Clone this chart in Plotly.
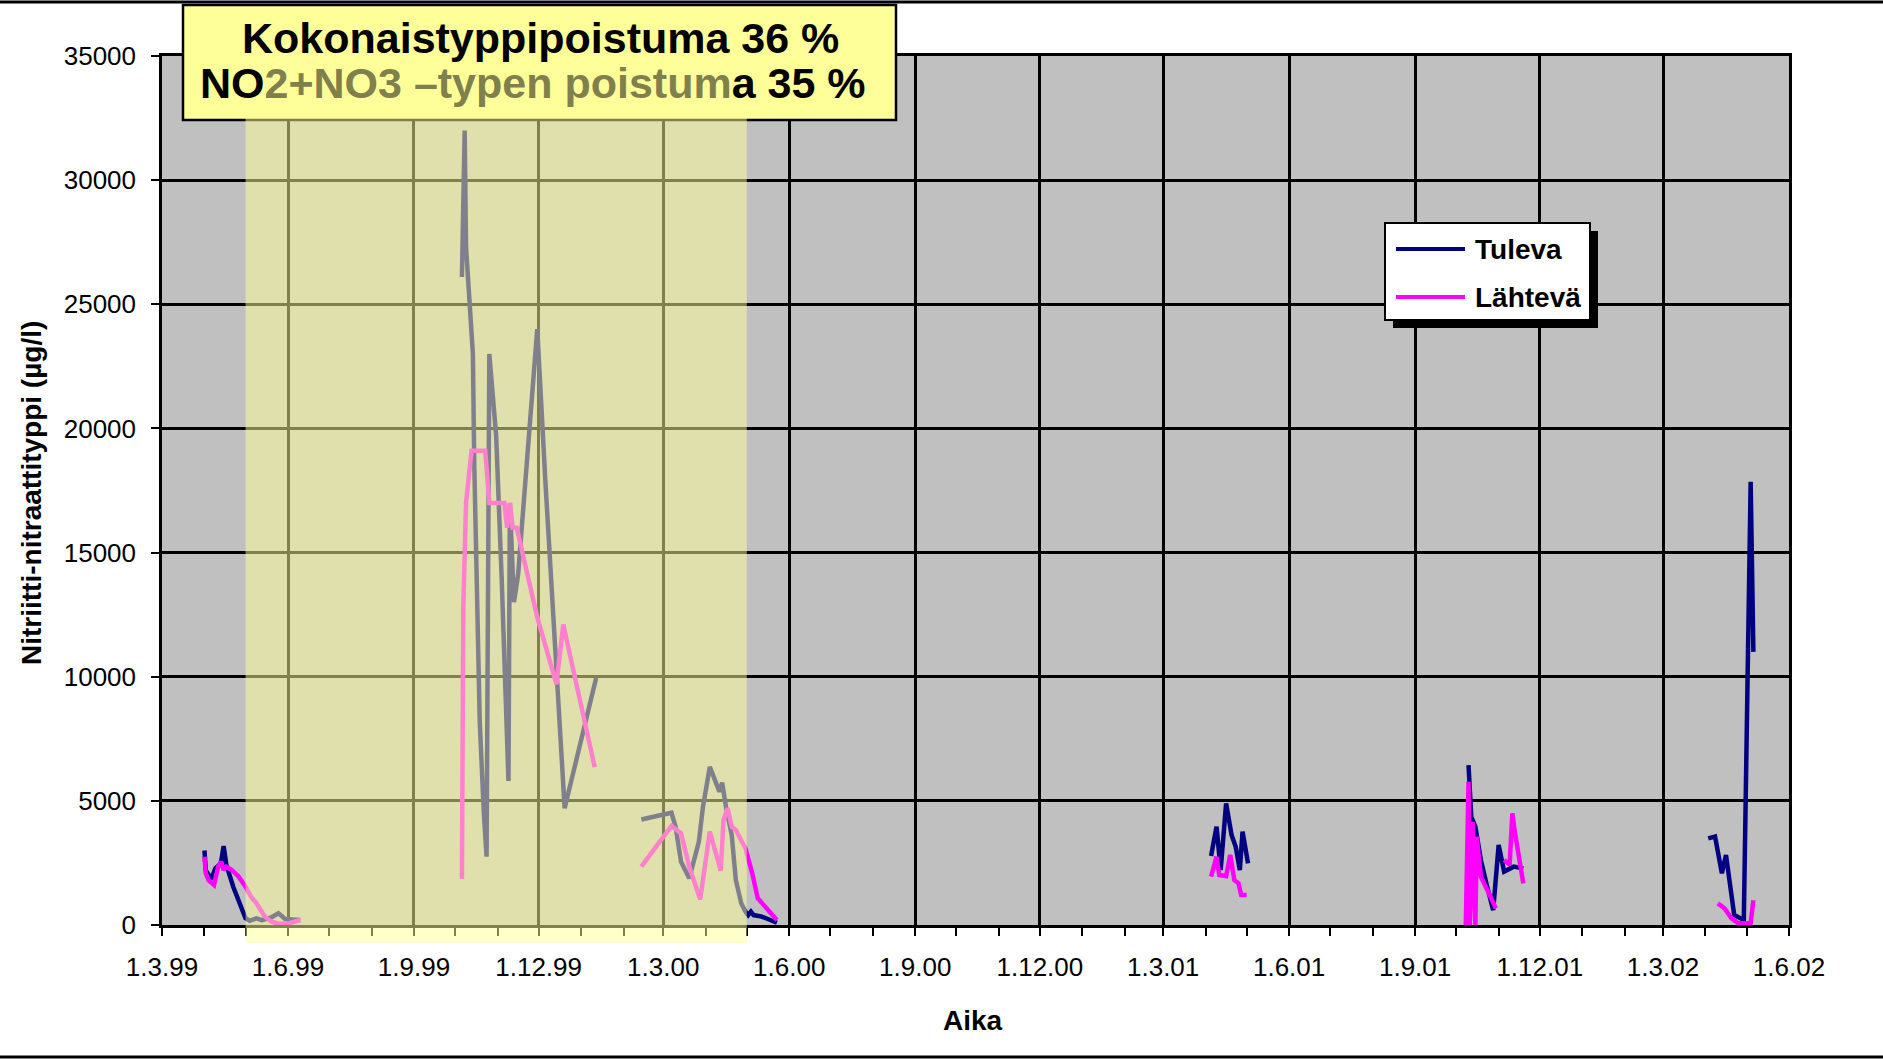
import plotly.graph_objects as go

# ---------------- data ----------------
tuleva_dates = [
    "1999-04-01", "1999-04-02", "1999-04-06", "1999-04-09", "1999-04-13", "1999-04-15",
    "1999-04-17", "1999-04-22", "1999-05-01", "1999-05-04", "1999-05-09", "1999-05-13",
    "1999-05-20", "1999-05-25", "1999-05-30", "1999-06-10", None,
    "1999-10-06", "1999-10-08", "1999-10-09", "1999-10-14", "1999-10-15", "1999-10-17",
    "1999-10-19", "1999-10-22", "1999-10-24", "1999-10-26", "1999-10-31", "1999-11-04",
    "1999-11-09", "1999-11-10", "1999-11-13", "1999-11-16", "1999-11-30", "1999-12-06",
    "1999-12-14", "1999-12-20", "2000-01-12", None,
    "2000-02-14", "2000-03-07", "2000-03-10", "2000-03-14", "2000-03-20", "2000-03-27",
    "2000-03-30", "2000-04-04", "2000-04-11", "2000-04-13", "2000-04-16", "2000-04-20",
    "2000-04-23", "2000-04-27", "2000-04-30", "2000-05-02", "2000-05-04", "2000-05-06",
    "2000-05-12", "2000-05-23", None,
    "2001-04-05", "2001-04-09", "2001-04-12", "2001-04-16", "2001-04-20", "2001-04-23",
    "2001-04-26", "2001-04-28", "2001-05-02", None,
    "2001-10-10", "2001-10-12", "2001-10-15", "2001-10-19", "2001-10-23", "2001-10-28",
    "2001-11-01", "2001-11-05", "2001-11-12", "2001-11-19", None,
    "2002-04-03", "2002-04-08", "2002-04-13", "2002-04-16", "2002-04-22", "2002-04-29",
    "2002-05-04", "2002-05-06",
]
tuleva_values = [
    3000, 2200, 1850, 2280, 2480, 3180, 2420, 1540, 270, 170, 270, 200, 310, 470, 240, 200, None,
    26100, 32000, 27300, 23000, 18600, 14000, 8200, 4500, 2750, 23000, 19700, 14000,
    5800, 17000, 13000, 14100, 24000, 17800, 10100, 4700, 9950, None,
    4250, 4520, 3960, 2550, 1880, 3350, 4760, 6370, 5370, 5730, 4700, 3620,
    1810, 870, 540, 400, 540, 400, 340, 90, None,
    2780, 3960, 2215, 4900, 3620, 3150, 2215, 3760, 2480, None,
    6440, 4360, 3960, 2620, 1680, 600, 3220, 2150, 2350, 2280, None,
    3490, 3560, 2080, 2820, 400, 200, 17850, 11000,
]

lahteva_dates = [
    "1999-04-01", "1999-04-02", "1999-04-04", "1999-04-08", "1999-04-11", "1999-04-13",
    "1999-04-15", "1999-04-17", "1999-04-21", "1999-04-26", "1999-05-01", "1999-05-05",
    "1999-05-09", "1999-05-12", "1999-05-15", "1999-05-20", "1999-05-26", "1999-06-02",
    "1999-06-10", None,
    "1999-10-06", "1999-10-07", "1999-10-09", "1999-10-13", "1999-10-23", "1999-10-26",
    "1999-11-06", "1999-11-08", "1999-11-10", "1999-11-12", "1999-11-15", "1999-11-30",
    "1999-12-14", "1999-12-19", "2000-01-11", None,
    "2000-02-14", "2000-03-07", "2000-03-14", "2000-03-20", "2000-03-28", "2000-04-04",
    "2000-04-12", "2000-04-14", "2000-04-17", "2000-04-20", "2000-04-23", "2000-04-30",
    "2000-05-05", "2000-05-09", "2000-05-23", None,
    "2001-04-05", "2001-04-09", "2001-04-11", "2001-04-16", "2001-04-19", "2001-04-22",
    "2001-04-25", "2001-04-27", "2001-05-01", None,
    "2001-10-08", "2001-10-10", "2001-10-11", "2001-10-13", "2001-10-15", "2001-10-16",
    "2001-10-19", "2001-10-24", "2001-10-30", None,
    "2001-11-05", "2001-11-09", "2001-11-11", "2001-11-13", "2001-11-19", None,
    "2002-04-10", "2002-04-15", "2002-04-20", "2002-04-25", "2002-05-04", "2002-05-06",
]
lahteva_values = [
    2750, 2080, 1810, 1610, 2350, 2550, 2215, 2350, 2215, 1945, 1540, 1140,
    870, 600, 340, 130, 40, 70, 200, None,
    1850, 12800, 17000, 19100, 19100, 17000, 17000, 16000, 17000, 16000, 16000, 12400,
    9700, 12100, 6350, None,
    2350, 3990, 3690, 2350, 1030, 3760, 2190, 4230, 4700, 3960, 3830, 3090,
    2080, 1075, 200, None,
    1950, 2750, 2010, 1970, 2820, 1810, 1680, 1210, 1210, None,
    0, 5770, 0, 4160, 0, 3560, 1950, 1410, 670, None,
    2620, 2420, 4500, 3690, 1680, None,
    870, 670, 270, 70, 70, 1000,
]

series_names = ["Tuleva", "Lähtevä"]
series_colors = ["#000080", "#FF00FF"]

title_line1 = "Kokonaistyppipoistuma 36 %"
title_line2_parts = ["NO", "2+NO3 –typen poistum", "a 35 %"]
y_title = "Nitriitti-nitraattityppi (µg/l)"
x_title = "Aika"

x_range = ["1999-03-01", "2002-06-01"]
y_range = [0, 35000]
highlight_period = ["1999-05-01", "2000-05-01"]

# ---------------- layout helpers (pixel -> paper) ----------------
W, H = 1883, 1059
ML, MR, MT, MB = 162, 94, 56, 134
PW, PH = W - ML - MR, H - MT - MB


def px(x):
    return (x - ML) / PW


def py(y):
    return (H - MB - y) / PH


FONT = "Liberation Sans, Arial, sans-serif"

fig = go.Figure()
fig.add_trace(go.Scatter(x=tuleva_dates, y=tuleva_values, mode="lines",
                         name=series_names[0], connectgaps=False,
                         line=dict(color=series_colors[0], width=4.5)))
fig.add_trace(go.Scatter(x=lahteva_dates, y=lahteva_values, mode="lines",
                         name=series_names[1], connectgaps=False,
                         line=dict(color=series_colors[1], width=4.5)))

olive = "#80804D"
shapes = [
    # title box
    dict(type="rect", xref="paper", yref="paper", x0=px(183), x1=px(896), y0=py(120), y1=py(5),
         fillcolor="#FFFF99", line=dict(color="black", width=2.5), layer="above"),
    # highlighted period (semi-transparent yellow)
    dict(type="rect", xref="x", yref="paper", x0=highlight_period[0], x1=highlight_period[1],
         y0=py(943), y1=1, fillcolor="#FFFF99", opacity=0.5, line=dict(width=0), layer="above"),
    # legend shadow + box
    dict(type="rect", xref="paper", yref="paper", x0=px(1393), x1=px(1598), y0=py(328), y1=py(231),
         fillcolor="black", line=dict(width=0), layer="above"),
    dict(type="rect", xref="paper", yref="paper", x0=px(1385), x1=px(1590), y0=py(320), y1=py(223),
         fillcolor="white", line=dict(color="black", width=2), layer="above"),
    dict(type="line", xref="paper", yref="paper", x0=px(1396), x1=px(1465), y0=py(249), y1=py(249),
         line=dict(color=series_colors[0], width=4), layer="above"),
    dict(type="line", xref="paper", yref="paper", x0=px(1396), x1=px(1465), y0=py(297), y1=py(297),
         line=dict(color=series_colors[1], width=4), layer="above"),
    # chart area border lines (top & bottom)
    dict(type="line", xref="paper", yref="paper", x0=px(0), x1=px(W), y0=py(2), y1=py(2),
         line=dict(color="black", width=3), layer="above"),
    dict(type="line", xref="paper", yref="paper", x0=px(0), x1=px(W), y0=py(1057), y1=py(1057),
         line=dict(color="black", width=3), layer="above"),
]

annotations = [
    dict(xref="paper", yref="paper", x=px(540), y=py(38), text="<b>%s</b>" % title_line1,
         showarrow=False, xanchor="center", yanchor="middle",
         font=dict(family=FONT, size=43, color="black")),
    dict(xref="paper", yref="paper", x=px(533), y=py(83),
         text="<b>%s<span style='color:%s'>%s</span>%s</b>" % (
             title_line2_parts[0], olive, title_line2_parts[1], title_line2_parts[2]),
         showarrow=False, xanchor="center", yanchor="middle",
         font=dict(family=FONT, size=43, color="black")),
    dict(xref="paper", yref="paper", x=px(1473), y=py(249), text="<b>%s</b>" % series_names[0],
         showarrow=False, xanchor="left", yanchor="middle",
         font=dict(family=FONT, size=28, color="black")),
    dict(xref="paper", yref="paper", x=px(1473), y=py(297), text="<b>%s</b>" % series_names[1],
         showarrow=False, xanchor="left", yanchor="middle",
         font=dict(family=FONT, size=28, color="black")),
    dict(xref="paper", yref="paper", x=px(31), y=py(493), text="<b>%s</b>" % y_title,
         showarrow=False, textangle=-90, xanchor="center", yanchor="middle",
         font=dict(family=FONT, size=28, color="black")),
    dict(xref="paper", yref="paper", x=px(973), y=py(1020), text="<b>%s</b>" % x_title,
         showarrow=False, xanchor="center", yanchor="middle",
         font=dict(family=FONT, size=28, color="black")),
]

fig.update_layout(
    width=W, height=H,
    margin=dict(l=ML, r=MR, t=MT, b=MB, pad=0),
    paper_bgcolor="white",
    plot_bgcolor="#C0C0C0",
    showlegend=False,
    font=dict(family=FONT, size=26, color="black"),
    shapes=shapes,
    annotations=annotations,
)
fig.update_xaxes(
    type="date", range=x_range, tick0="1999-03-01", dtick="M3",
    tickformat="%-d.%-m.%y", ticks="outside", ticklen=8, tickwidth=2, tickcolor="black",
    showgrid=True, gridcolor="black", gridwidth=2.5,
    showline=True, linecolor="black", linewidth=2.5, mirror=True,
    tickfont=dict(family=FONT, size=26, color="black"), ticklabelstandoff=9,
    minor=dict(dtick="M1", tick0="1999-03-01", ticks="outside", ticklen=8, tickwidth=2,
               tickcolor="black", showgrid=False),
    zeroline=False,
)
fig.update_yaxes(
    range=y_range, dtick=5000, tickformat="d",
    ticks="outside", ticklen=8, tickwidth=2, tickcolor="black",
    showgrid=True, gridcolor="black", gridwidth=2.5,
    showline=True, linecolor="black", linewidth=2.5, mirror=True,
    tickfont=dict(family=FONT, size=26, color="black"), ticklabelstandoff=10,
    zeroline=False,
)

fig.write_html("out.html")
